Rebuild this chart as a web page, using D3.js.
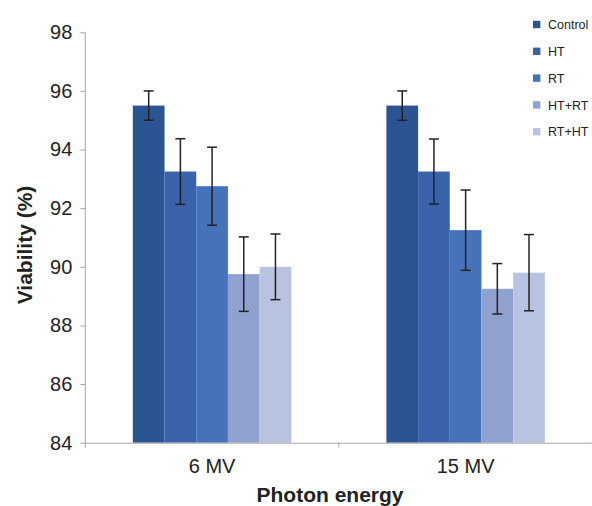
<!DOCTYPE html>
<html>
<head>
<meta charset="utf-8">
<script src="https://cdn.jsdelivr.net/npm/d3@7"></script>
<style>
  html, body { margin: 0; padding: 0; background: #fff; }
  svg { display: block; }
  text { font-family: "Liberation Sans", Arial, sans-serif; }
</style>
</head>
<body>
<svg id="chart" width="592" height="506"></svg>
<script>
const categories = ["6 MV", "15 MV"];
const seriesNames = ["Control", "HT", "RT", "HT+RT", "RT+HT"];
const seriesColors = ["#2b5592", "#3a62ab", "#4572b9", "#8fa2cf", "#b8c3e1"];
// values[series][category]
const values = [
  [95.5, 95.5],
  [93.25, 93.25],
  [92.75, 91.25],
  [89.75, 89.25],
  [90.0, 89.8]
];
const errors = [
  [0.5, 0.5],
  [1.12, 1.11],
  [1.33, 1.37],
  [1.27, 0.86],
  [1.12, 1.3]
];
const yTicks = [84, 86, 88, 90, 92, 94, 96, 98];

const svg = d3.select("#chart");
const mLeft = 85.3, mRight = 592.4, mTop = 32.3, mBottom = 442.7;

const x0 = d3.scaleBand().domain(categories).range([mLeft, mRight]).padding(0);
const x1 = d3.scaleBand().domain(seriesNames).range([0, x0.bandwidth()])
  .paddingInner(0).paddingOuter(1.5);
const y = d3.scaleLinear().domain([84, 98]).range([mBottom, mTop]);
const color = d3.scaleOrdinal().domain(seriesNames).range(seriesColors);

const rows = [];
seriesNames.forEach((s, si) => {
  categories.forEach((c, ci) => {
    rows.push({ s, c, v: values[si][ci], e: errors[si][ci] });
  });
});

// bars
svg.append("g").selectAll("rect").data(rows).join("rect")
  .attr("x", d => x0(d.c) + x1(d.s))
  .attr("y", d => y(d.v))
  .attr("width", x1.bandwidth())
  .attr("height", d => y(84) - y(d.v))
  .attr("fill", d => color(d.s));

// error bars
const eg = svg.append("g").attr("stroke", "#222").attr("stroke-width", 1.5).attr("fill", "none");
rows.forEach(d => {
  const cx = x0(d.c) + x1(d.s) + x1.bandwidth() / 2;
  const y1 = y(d.v + d.e), y2 = y(d.v - d.e);
  eg.append("line").attr("x1", cx).attr("x2", cx).attr("y1", y1).attr("y2", y2);
  eg.append("line").attr("x1", cx - 5).attr("x2", cx + 5).attr("y1", y1).attr("y2", y1);
  eg.append("line").attr("x1", cx - 5).attr("x2", cx + 5).attr("y1", y2).attr("y2", y2);
});

// y axis
const yAxis = d3.axisLeft(y).tickValues(yTicks).tickSize(5).tickPadding(8).tickFormat(d3.format("d"));
const gy = svg.append("g").attr("transform", `translate(${mLeft},0)`).call(yAxis);
gy.select(".domain").attr("stroke", "#a6a6a6").attr("d", `M0,${mTop}V${mBottom + 5}`);
gy.selectAll(".tick line").attr("stroke", "#a6a6a6");
gy.selectAll(".tick text").attr("font-size", 20).attr("fill", "#222")
  .attr("font-family", "'Liberation Sans', Arial, sans-serif");

// x axis
const xAxis = d3.axisBottom(x0).tickSize(0).tickPadding(16);
const gx = svg.append("g").attr("transform", `translate(0,${mBottom})`).call(xAxis);
gx.select(".domain").attr("stroke", "#a6a6a6");
gx.selectAll(".tick text").attr("font-size", 20).attr("fill", "#222")
  .attr("font-family", "'Liberation Sans', Arial, sans-serif");
// boundary ticks between categories
const bounds = categories.map(c => x0(c)).concat([x0(categories[categories.length - 1]) + x0.bandwidth()]);
svg.append("g").selectAll("line").data(bounds.slice(1)).join("line")
  .attr("x1", d => d).attr("x2", d => d)
  .attr("y1", mBottom).attr("y2", mBottom + 5)
  .attr("stroke", "#a6a6a6");

// axis titles
svg.append("text")
  .attr("transform", `translate(32,245) rotate(-90)`)
  .attr("text-anchor", "middle")
  .attr("font-size", 21).attr("font-weight", "bold").attr("fill", "#222")
  .text("Viability (%)");
svg.append("text")
  .attr("x", 330).attr("y", 501.5)
  .attr("text-anchor", "middle")
  .attr("font-size", 21).attr("font-weight", "bold").attr("fill", "#222")
  .text("Photon energy");

// legend
const lg = svg.append("g");
seriesNames.forEach((s, i) => {
  const cy = 24.5 + i * 26.8;
  lg.append("rect").attr("x", 533).attr("y", cy - 3.7).attr("width", 7.4).attr("height", 7.4)
    .attr("fill", color(s));
  lg.append("text").attr("x", 548).attr("y", cy + 4.6)
    .attr("font-family", "'Open Sans', sans-serif")
    .attr("font-size", 12.5).attr("fill", "#222").text(s);
});
</script>
</body>
</html>
